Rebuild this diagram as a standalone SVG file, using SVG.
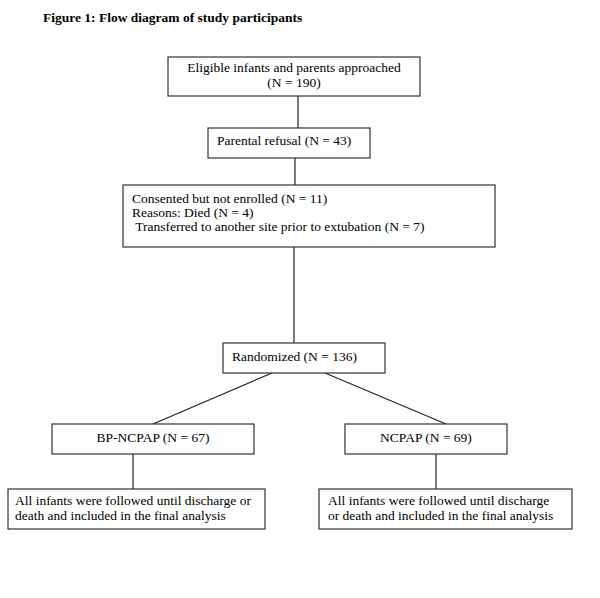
<svg xmlns="http://www.w3.org/2000/svg" width="600" height="598" viewBox="0 0 600 598">
<style>
.box{fill:#fff;stroke:#333;stroke-width:1.2}
.t{font-family:"Liberation Serif","Times New Roman",serif;font-size:13.5px;fill:#000}
.c{text-anchor:middle}
.ln{stroke:#222;stroke-width:1.2;fill:none}
</style>
<rect width="600" height="598" fill="#fff"/>
<text x="43" y="22" class="t" style="font-weight:bold">Figure 1: Flow diagram of study participants</text>
<g id="connectors">
<line class="ln" x1="298" y1="96" x2="298" y2="128"/>
<line class="ln" x1="295" y1="158" x2="295" y2="185"/>
<line class="ln" x1="294" y1="247" x2="294" y2="343"/>
<line class="ln" x1="272" y1="373" x2="153" y2="424"/>
<line class="ln" x1="325" y1="373" x2="446" y2="424"/>
<line class="ln" x1="133" y1="454" x2="133" y2="489"/>
<line class="ln" x1="436" y1="454" x2="436" y2="489"/>
</g>
<g id="eligible">
<rect class="box" x="168" y="57" width="252" height="39"/>
<text class="t c" x="294" y="72">Eligible infants and parents approached</text>
<text class="t c" x="294" y="87">(N = 190)</text>
</g>
<g id="refusal">
<rect class="box" x="208" y="128" width="162" height="30"/>
<text class="t" x="217" y="145">Parental refusal (N = 43)</text>
</g>
<g id="notenrolled">
<rect class="box" x="123" y="185" width="372" height="62"/>
<text class="t" x="132" y="203">Consented but not enrolled (N = 11)</text>
<text class="t" x="132" y="217">Reasons: Died (N = 4)</text>
<text class="t" x="132" y="231" xml:space="preserve"> Transferred to another site prior to extubation (N = 7)</text>
</g>
<g id="randomized">
<rect class="box" x="223" y="343" width="162" height="30"/>
<text class="t" x="232" y="361">Randomized (N = 136)</text>
</g>
<g id="bpncpap">
<rect class="box" x="52" y="424" width="202" height="30"/>
<text class="t c" x="153" y="442">BP-NCPAP (N = 67)</text>
</g>
<g id="ncpap">
<rect class="box" x="345" y="424" width="162" height="30"/>
<text class="t c" x="426" y="442">NCPAP (N = 69)</text>
</g>
<g id="followed1">
<rect class="box" x="8" y="489" width="257" height="40"/>
<text class="t" x="15" y="505">All infants were followed until discharge or</text>
<text class="t" x="15" y="520">death and included in the final analysis</text>
</g>
<g id="followed2">
<rect class="box" x="319" y="489" width="253" height="40"/>
<text class="t" x="328" y="505">All infants were followed until discharge</text>
<text class="t" x="328" y="520">or death and included in the final analysis</text>
</g>
</svg>
